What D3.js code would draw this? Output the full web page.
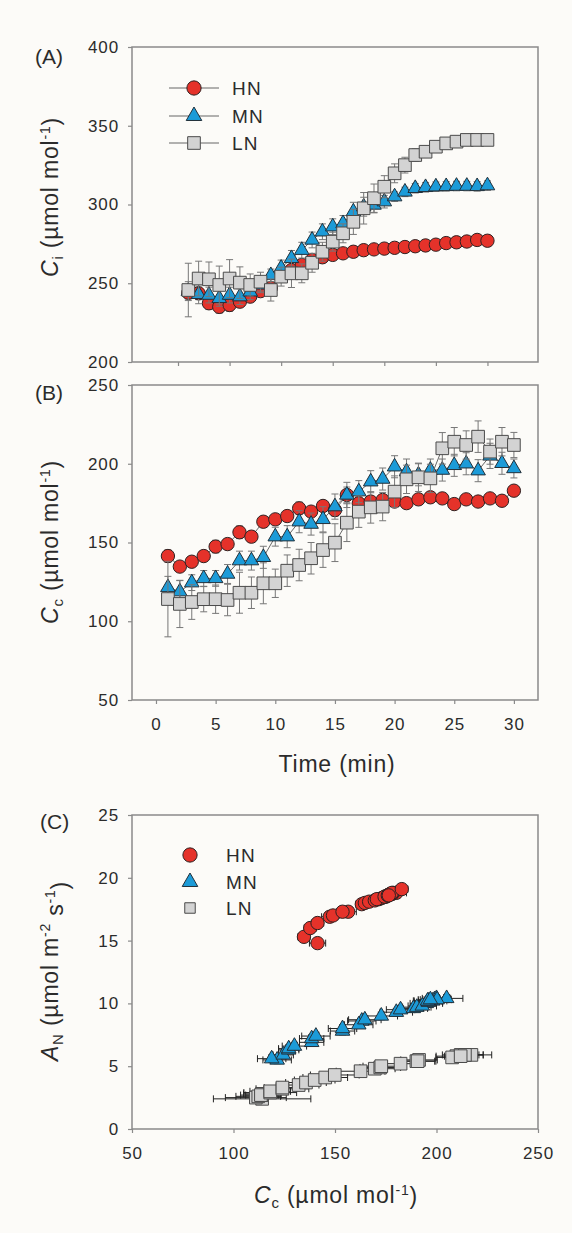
<!DOCTYPE html>
<html>
<head>
<meta charset="utf-8">
<script src="https://cdnjs.cloudflare.com/ajax/libs/d3/7.8.5/d3.min.js"></script>
<style>
  body { margin: 0; background: #fcfbf8; }
  svg { display: block; font-family: "Liberation Sans", Arial, sans-serif; }
  text { fill: #2b2b2b; }
</style>
</head>
<body>
<div id="chart"></div>
<script>
// time points (min)
var tMin = [1, 2, 3, 4, 5, 6, 7, 8, 9, 10, 11, 12, 13, 14, 15, 16, 17, 18, 19, 20, 21, 22, 23, 24, 25, 26, 27, 28, 29, 30];

// (A) Ci
var ciHN = [244, 243.6, 237.3, 235, 236.2, 238.3, 241.5, 245, 247, 255, 258.4, 261.6, 264.8, 266.5, 268, 269, 270, 271, 271.5, 272, 272.5, 273, 273.5, 274, 274.5, 275.5, 276, 276.5, 277.5, 277];
var ciHNErr = [4, 4, 4, 4, 4, 3, 3, 3, 3, 3, 3, 3, 3, 2, 2, 2, 2, 2, 2, 2, 2, 2, 2, 2, 2, 2, 2, 2, 2, 2];
var ciMN = [245, 243, 242.5, 240.4, 242.5, 241.5, 244.6, 249, 255, 259.7, 265.8, 271, 277.5, 282.7, 285.9, 288, 295.4, 298.6, 299.7, 301.8, 305, 308, 310.3, 310.9, 311.3, 311.5, 311.7, 311.7, 311.5, 312];
var ciMNErr = [6, 6, 5, 5, 5, 5, 5, 5, 4, 5, 5, 5, 5, 5, 5, 5, 6, 6, 5, 4, 3, 3, 3, 3, 3, 3, 3, 3, 3, 3];
var ciLN = [245.7, 253, 252.5, 248.9, 253, 250.4, 248.9, 251, 245.7, 254.2, 256.3, 256.3, 263, 270, 276.4, 281.7, 289, 297.6, 304, 311.3, 319.8, 325, 331.4, 333.5, 336.7, 338.8, 339.9, 341, 341, 341];
var ciLNErr = [17, 11, 11, 12, 12, 10, 7, 6, 7, 6, 9, 6, 6, 6, 6, 6, 8, 10, 9, 7, 6, 5, 4, 3, 3, 3, 3, 3, 3, 3];

// (B) Cc
var ccHN = [141.4, 134.7, 137.8, 141.4, 147.4, 149, 156.5, 153.7, 163.2, 164.7, 166.8, 171.7, 169.6, 173.2, 170.6, 180.2, 174.9, 176, 177, 176, 175, 177.4, 178.7, 178, 174.4, 177.4, 176, 178, 176.5, 182.9];
var ccHNErr = [4, 3, 3, 3, 4, 3, 4, 3, 3, 3, 3, 4, 3, 3, 4, 5, 4, 3, 3, 3, 3, 3, 3, 3, 3, 3, 3, 3, 3, 3];
var ccMN = [121.5, 118.8, 124.5, 127.2, 127.2, 130, 138.5, 138.5, 140.6, 153.7, 153.7, 163.2, 161.7, 164.7, 172.8, 180.2, 182.3, 188.6, 190.3, 198.1, 195, 193, 196, 196, 199, 200, 195.6, 205, 200.3, 197];
var ccMNErr = [7, 7, 5, 5, 5, 6, 6, 6, 7, 6, 7, 7, 7, 8, 8, 8, 7, 7, 7, 7, 8, 7, 7, 7, 7, 7, 7, 8, 7, 6];
var ccLN = [114.1, 111, 112.2, 114, 114, 113.5, 118.1, 118.1, 124.1, 124.1, 132.1, 135.7, 140, 145.2, 149.9, 162.6, 169.6, 172.3, 172.8, 182.3, 190.1, 191.4, 190.7, 209.8, 214, 211.9, 217.2, 207.7, 214, 211.9];
var ccLNErr = [24, 15, 11, 8, 9, 10, 13, 10, 13, 9, 10, 10, 10, 11, 12, 12, 10, 10, 9, 10, 9, 9, 9, 10, 9, 9, 10, 8, 9, 8];

// (C) AN against Cc
var anHN = [14.8, 15.3, 16.0, 16.4, 16.9, 17.0, 17.3, 17.3, 17.9, 18.0, 18.1, 18.3, 18.2, 18.4, 18.3, 18.8, 18.5, 18.6, 18.7, 18.6, 18.5, 18.7, 18.8, 18.7, 18.5, 18.7, 18.6, 18.8, 18.6, 19.1];
var anHNErr = [0.3, 0.3, 0.3, 0.3, 0.3, 0.3, 0.3, 0.3, 0.3, 0.3, 0.3, 0.3, 0.3, 0.3, 0.3, 0.4, 0.3, 0.3, 0.3, 0.3, 0.3, 0.3, 0.3, 0.3, 0.3, 0.3, 0.3, 0.3, 0.3, 0.3];
var anMN = [5.5, 5.6, 5.9, 6.3, 6.4, 6.6, 6.9, 7.2, 7.4, 7.8, 8.0, 8.6, 8.3, 8.7, 9.0, 9.3, 9.5, 9.6, 9.7, 10.2, 10.0, 9.8, 10.1, 10.2, 10.3, 10.4, 10.2, 10.4, 10.3, 10.3];
var anMNErr = [0.3, 0.3, 0.3, 0.3, 0.3, 0.3, 0.3, 0.3, 0.3, 0.3, 0.3, 0.3, 0.3, 0.3, 0.3, 0.3, 0.3, 0.3, 0.3, 0.3, 0.3, 0.3, 0.3, 0.3, 0.3, 0.3, 0.3, 0.3, 0.3, 0.3];
var anLN = [2.4, 2.5, 2.6, 2.7, 2.8, 2.7, 2.9, 3.0, 3.2, 3.3, 3.5, 3.7, 3.9, 4.1, 4.3, 4.6, 4.8, 4.9, 5.0, 5.2, 5.4, 5.5, 5.4, 5.8, 5.9, 5.9, 5.9, 5.7, 5.9, 5.8];
var anLNErr = [0.3, 0.3, 0.3, 0.3, 0.3, 0.3, 0.3, 0.3, 0.3, 0.3, 0.3, 0.3, 0.3, 0.3, 0.3, 0.3, 0.3, 0.3, 0.3, 0.3, 0.3, 0.3, 0.3, 0.3, 0.3, 0.3, 0.3, 0.3, 0.3, 0.3];

// tick labels
var timeTicks = [0, 5, 10, 15, 20, 25, 30];
var ciTicks = [200, 250, 300, 350, 400];
var ccTicks = [50, 100, 150, 200, 250];
var anTicks = [0, 5, 10, 15, 20, 25];
var seriesNames = ['HN', 'MN', 'LN'];

var styles = {
	HN: { type: d3.symbolCircle, size: 140, fill: '#e5322a', stroke: '#2e2222' },
	MN: { type: d3.symbolTriangle, size: 92, fill: '#1c9bd8', stroke: '#22303a' },
	LN: { type: d3.symbolSquare, size: 160, fill: '#d3d3d3', stroke: '#4a4a4a' }
};

var svg = d3.select('#chart').append('svg')
	.attr('width', 572)
	.attr('height', 1233);

svg.append('rect').attr('width', 572).attr('height', 1233).attr('fill', '#fcfbf8');

var left = 132, right = 538;
var frameColor = '#8a8a8a';

//scales
var xA = d3.scaleLinear().domain([-4.46, 34.9]).range([left, right]);
var yA = d3.scaleLinear().domain([200, 400]).range([362, 47]);
var xB = d3.scaleLinear().domain([-2.01, 32.02]).range([left, right]);
var yB = d3.scaleLinear().domain([50, 250]).range([700, 385]);
var xC = d3.scaleLinear().domain([50, 250]).range([left, right]);
var yC = d3.scaleLinear().domain([0, 25]).range([1129, 815]);

function styleAxis(g) {
	g.select('.domain').remove();
	g.selectAll('.tick line').attr('stroke', frameColor).attr('stroke-width', 1.2);
	g.selectAll('.tick text')
		.style('font-size', '17px')
		.style('letter-spacing', '0.9px')
		.attr('fill', '#2b2b2b');
}

function drawFrame(x, y) {
	svg.append('rect')
		.attr('x', x.range()[0])
		.attr('y', y.range()[1])
		.attr('width', x.range()[1] - x.range()[0])
		.attr('height', y.range()[0] - y.range()[1])
		.attr('fill', 'none')
		.attr('stroke', frameColor)
		.attr('stroke-width', 1.5);
}

function leftAxis(y, ticks) {
	svg.append('g')
		.attr('transform', 'translate(' + left + ',0)')
		.call(d3.axisLeft(y).tickValues(ticks).tickSize(4).tickPadding(9).tickFormat(d3.format('d')))
		.call(styleAxis);
}

function bottomAxis(x, y, ticks, showLabels) {
	var ax = d3.axisBottom(x).tickValues(ticks).tickSize(4).tickPadding(14);
	if (!showLabels) ax.tickFormat('');
	svg.append('g')
		.attr('transform', 'translate(0,' + y.range()[0] + ')')
		.call(ax)
		.call(styleAxis);
}

// label made of pieces (italic, sub, super)
function richText(x, y, rotate, size, parts) {
	var t = svg.append('text')
		.attr('transform', 'translate(' + x + ',' + y + ') rotate(' + rotate + ')')
		.attr('text-anchor', 'middle')
		.style('font-size', size + 'px')
		.style('letter-spacing', '0.8px');
	parts.forEach(function (p) {
		var s = t.append('tspan').text(p.text);
		if (p.italic) s.style('font-style', 'italic');
		if (p.size) s.style('font-size', p.size + 'px');
		if (p.dy) s.attr('dy', p.dy);
	});
	return t;
}

function panelLetter(txt, x, y) {
	svg.append('text').attr('x', x).attr('y', y)
		.style('font-size', '21px')
		.text(txt);
}

function timeSeries(x, y, name, vals, errs) {
	var st = styles[name];
	var pts = tMin.map(function (t, i) { return { t: t, v: vals[i], e: errs[i] }; });
	var g = svg.append('g');
	g.append('path')
		.datum(pts)
		.attr('fill', 'none')
		.attr('stroke', '#666')
		.attr('stroke-width', 1)
		.attr('d', d3.line().x(function (d) { return x(d.t); }).y(function (d) { return y(d.v); }));
	var eb = g.selectAll('.eb').data(pts).enter().append('g')
		.attr('stroke', '#777').attr('stroke-width', 1);
	eb.append('line')
		.attr('x1', function (d) { return x(d.t); }).attr('x2', function (d) { return x(d.t); })
		.attr('y1', function (d) { return y(d.v - d.e); }).attr('y2', function (d) { return y(d.v + d.e); });
	eb.append('line')
		.attr('x1', function (d) { return x(d.t) - 3.5; }).attr('x2', function (d) { return x(d.t) + 3.5; })
		.attr('y1', function (d) { return y(d.v + d.e); }).attr('y2', function (d) { return y(d.v + d.e); });
	eb.append('line')
		.attr('x1', function (d) { return x(d.t) - 3.5; }).attr('x2', function (d) { return x(d.t) + 3.5; })
		.attr('y1', function (d) { return y(d.v - d.e); }).attr('y2', function (d) { return y(d.v - d.e); });
	g.selectAll('.pt').data(pts).enter().append('path')
		.attr('transform', function (d) { return 'translate(' + x(d.t) + ',' + y(d.v) + ')'; })
		.attr('d', d3.symbol().type(st.type).size(st.size))
		.attr('fill', st.fill)
		.attr('stroke', st.stroke)
		.attr('stroke-width', 1);
}

function scatterSeries(name, xs, xe, ys, ye) {
	var st = styles[name];
	var pts = xs.map(function (v, i) { return { x: v, xe: xe[i], y: ys[i], ye: ye[i] }; });
	var g = svg.append('g');
	var eb = g.selectAll('.eb').data(pts).enter().append('g')
		.attr('stroke', '#222').attr('stroke-width', 1);
	eb.append('line')
		.attr('x1', function (d) { return xC(d.x - d.xe); }).attr('x2', function (d) { return xC(d.x + d.xe); })
		.attr('y1', function (d) { return yC(d.y); }).attr('y2', function (d) { return yC(d.y); });
	eb.append('line')
		.attr('x1', function (d) { return xC(d.x - d.xe); }).attr('x2', function (d) { return xC(d.x - d.xe); })
		.attr('y1', function (d) { return yC(d.y) - 3.5; }).attr('y2', function (d) { return yC(d.y) + 3.5; });
	eb.append('line')
		.attr('x1', function (d) { return xC(d.x + d.xe); }).attr('x2', function (d) { return xC(d.x + d.xe); })
		.attr('y1', function (d) { return yC(d.y) - 3.5; }).attr('y2', function (d) { return yC(d.y) + 3.5; });
	eb.append('line')
		.attr('x1', function (d) { return xC(d.x); }).attr('x2', function (d) { return xC(d.x); })
		.attr('y1', function (d) { return yC(d.y - d.ye); }).attr('y2', function (d) { return yC(d.y + d.ye); });
	eb.append('line')
		.attr('x1', function (d) { return xC(d.x) - 3.5; }).attr('x2', function (d) { return xC(d.x) + 3.5; })
		.attr('y1', function (d) { return yC(d.y + d.ye); }).attr('y2', function (d) { return yC(d.y + d.ye); });
	eb.append('line')
		.attr('x1', function (d) { return xC(d.x) - 3.5; }).attr('x2', function (d) { return xC(d.x) + 3.5; })
		.attr('y1', function (d) { return yC(d.y - d.ye); }).attr('y2', function (d) { return yC(d.y - d.ye); });
	g.selectAll('.pt').data(pts).enter().append('path')
		.attr('transform', function (d) { return 'translate(' + xC(d.x) + ',' + yC(d.y) + ')'; })
		.attr('d', d3.symbol().type(st.type).size(st.size))
		.attr('fill', st.fill)
		.attr('stroke', st.stroke)
		.attr('stroke-width', 1);
}

function legend(items, ys, mx, tx, withLine, sizes) {
	items.forEach(function (name, i) {
		var st = styles[name];
		if (withLine) {
			svg.append('line').attr('x1', mx - 25).attr('x2', mx + 25)
				.attr('y1', ys[i]).attr('y2', ys[i])
				.attr('stroke', '#666').attr('stroke-width', 1);
		}
		svg.append('path')
			.attr('transform', 'translate(' + mx + ',' + ys[i] + ')')
			.attr('d', d3.symbol().type(st.type).size(sizes[i]))
			.attr('fill', st.fill).attr('stroke', st.stroke).attr('stroke-width', 1);
		svg.append('text').attr('x', tx).attr('y', ys[i] + 7)
			.style('font-size', '19px').style('letter-spacing', '1.2px')
			.text(name);
	});
}

// ---------- panel A ----------
drawFrame(xA, yA);
leftAxis(yA, ciTicks);
bottomAxis(xA, yA, timeTicks, false);
timeSeries(xA, yA, 'HN', ciHN, ciHNErr);
timeSeries(xA, yA, 'MN', ciMN, ciMNErr);
timeSeries(xA, yA, 'LN', ciLN, ciLNErr);
legend(seriesNames, [88, 116, 143], 194, 232, true, [160, 105, 160]);
panelLetter('(A)', 35, 64);
richText(58, 197, -90, 23, [
	{ text: 'C', italic: true },
	{ text: 'i', size: 15, dy: '0.3em' },
	{ text: ' (\u00b5mol mol', dy: '-0.2em' },
	{ text: '-1', size: 14, dy: '-0.55em' },
	{ text: ')', dy: '0.4em' }
]);

// ---------- panel B ----------
drawFrame(xB, yB);
leftAxis(yB, ccTicks);
bottomAxis(xB, yB, timeTicks, true);
timeSeries(xB, yB, 'HN', ccHN, ccHNErr);
timeSeries(xB, yB, 'MN', ccMN, ccMNErr);
timeSeries(xB, yB, 'LN', ccLN, ccLNErr);
panelLetter('(B)', 35, 400);
richText(58, 542, -90, 23, [
	{ text: 'C', italic: true },
	{ text: 'c', size: 15, dy: '0.3em' },
	{ text: ' (\u00b5mol mol', dy: '-0.2em' },
	{ text: '-1', size: 14, dy: '-0.55em' },
	{ text: ')', dy: '0.4em' }
]);
svg.append('text').attr('x', 337).attr('y', 772)
	.attr('text-anchor', 'middle')
	.style('font-size', '23px').style('letter-spacing', '0.8px')
	.text('Time (min)');

// ---------- panel C ----------
drawFrame(xC, yC);
leftAxis(yC, anTicks);
bottomAxis(xC, yC, ccTicks, true);
scatterSeries('HN', ccHN, ccHNErr, anHN, anHNErr);
scatterSeries('MN', ccMN, ccMNErr, anMN, anMNErr);
scatterSeries('LN', ccLN, ccLNErr, anLN, anLNErr);
legend(seriesNames, [855, 882, 908], 190, 226, false, [160, 105, 110]);
panelLetter('(C)', 40, 829);
richText(58, 971, -90, 23, [
	{ text: 'A', italic: true },
	{ text: 'N', size: 15, dy: '0.3em' },
	{ text: ' (\u00b5mol m', dy: '-0.2em' },
	{ text: '-2', size: 14, dy: '-0.55em' },
	{ text: ' s', size: 23, dy: '0.55em' },
	{ text: '-1', size: 14, dy: '-0.55em' },
	{ text: ')', dy: '0.55em' }
]);
richText(336, 1203, 0, 23, [
	{ text: 'C', italic: true },
	{ text: 'c', size: 15, dy: '0.3em' },
	{ text: ' (\u00b5mol mol', dy: '-0.2em' },
	{ text: '-1', size: 14, dy: '-0.55em' },
	{ text: ')', dy: '0.4em' }
]);
</script>
</body>
</html>
